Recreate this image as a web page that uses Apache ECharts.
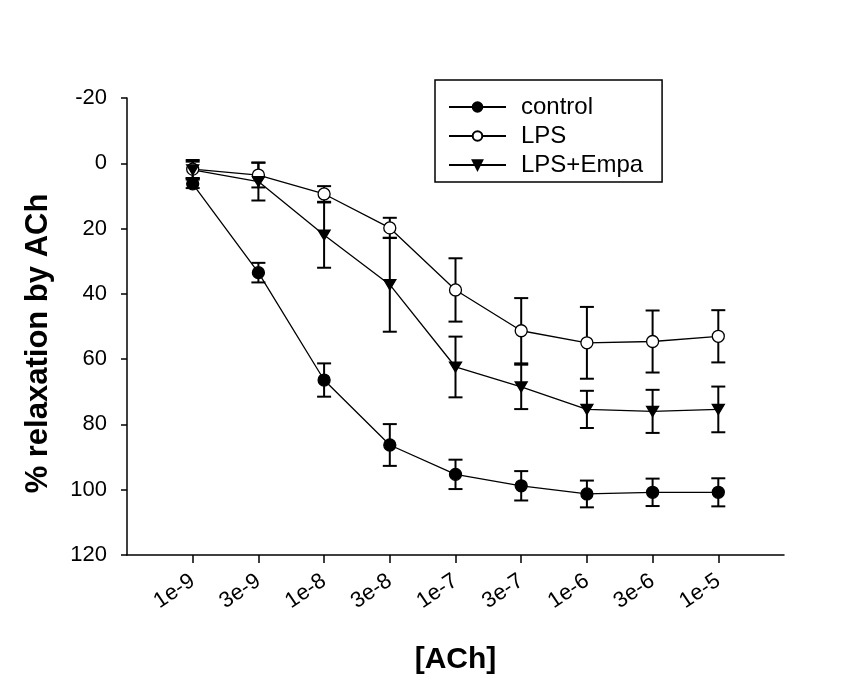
<!DOCTYPE html>
<html>
<head>
<meta charset="utf-8">
<script src="https://cdn.jsdelivr.net/npm/echarts@6/dist/echarts.min.js"></script>
<style>
  html, body { margin: 0; padding: 0; background: #fff; }
  #main { width: 848px; height: 686px; }
</style>
</head>
<body>
<div id="main"></div>
<script>
// ACh concentrations (x positions are just the index)
var categories = ['1e-9', '3e-9', '1e-8', '3e-8', '1e-7', '3e-7', '1e-6', '3e-6', '1e-5'];
var yTicks = [-20, 0, 20, 40, 60, 80, 100, 120];

// % relaxation, mean and sem
var control = [6.3, 33.5, 66.4, 86.3, 95.3, 98.8, 101.3, 100.8, 100.8];
var controlSem = [1.3, 3.0, 5.1, 6.4, 4.5, 4.5, 4.1, 4.2, 4.3];
var lps = [1.8, 3.6, 9.4, 19.8, 38.8, 51.3, 55.0, 54.6, 53.0];
var lpsSem = [2.8, 3.8, 2.4, 3.1, 9.7, 10.0, 11.0, 9.5, 8.0];
var empa = [2.0, 5.6, 22.0, 37.2, 62.4, 68.5, 75.4, 76.0, 75.4];
var empaSem = [2.5, 5.8, 10.0, 14.4, 9.3, 6.8, 5.7, 6.6, 7.0];

var FONT = 'Liberation Sans, Arial, sans-serif';

function points(vals) {
    return vals.map(function (v, i) { return [i, v]; });
}

function errData(vals, sem) {
    return vals.map(function (v, i) { return [i, v - sem[i], v + sem[i]]; });
}

// vertical error bar with caps
function renderErr(params, api) {
    var lo = api.coord([api.value(0), api.value(1)]);
    var hi = api.coord([api.value(0), api.value(2)]);
    var w = 7;
    var st = { stroke: '#000', lineWidth: 2 };
    return {
        type: 'group',
        children: [
            { type: 'line', shape: { x1: lo[0], y1: lo[1], x2: hi[0], y2: hi[1] }, style: st },
            { type: 'line', shape: { x1: lo[0] - w, y1: lo[1], x2: lo[0] + w, y2: lo[1] }, style: st },
            { type: 'line', shape: { x1: hi[0] - w, y1: hi[1], x2: hi[0] + w, y2: hi[1] }, style: st }
        ]
    };
}

function errSeries(vals, sem) {
    return {
        type: 'custom',
        renderItem: renderErr,
        data: errData(vals, sem),
        encode: { x: 0, y: [1, 2] },
        z: 1,
        silent: true
    };
}

function lineSeries(name, vals, symbol, fill, rot) {
    return {
        name: name,
        type: 'line',
        data: points(vals),
        symbol: symbol,
        symbolSize: symbol === 'triangle' ? [12, 10] : 12,
        symbolRotate: rot || 0,
        showAllSymbol: true,
        lineStyle: { color: '#000', width: 1.3 },
        itemStyle: { color: fill, borderColor: '#000', borderWidth: 1.3 },
        z: 3,
        animation: false
    };
}

var chart = echarts.init(document.getElementById('main'));

chart.setOption({
    animation: false,
    backgroundColor: '#fff',
    grid: { left: 127, right: 64, top: 98, bottom: 131 },
    legend: {
        data: ['control', 'LPS', 'LPS+Empa'],
        orient: 'vertical',
        left: 435,
        top: 80,
        padding: [15, 19, 5, 13],
        itemGap: 5,
        itemWidth: 57,
        itemHeight: 12,
        borderColor: '#000',
        borderWidth: 1.5,
        borderRadius: 0,
        textStyle: { fontFamily: FONT, fontSize: 24, color: '#000', padding: [0, 0, 0, 10] }
    },
    xAxis: {
        type: 'value',
        min: -1,
        max: 9,
        interval: 1,
        name: '[ACh]',
        nameLocation: 'middle',
        nameGap: 90,
        nameTextStyle: { fontFamily: FONT, fontSize: 30, fontWeight: 'bold', color: '#000' },
        splitLine: { show: false },
        axisLine: { onZero: false, lineStyle: { color: '#000', width: 1.5 } },
        axisTick: {
            customValues: categories.map(function (c, i) { return i; }),
            length: 8,
            lineStyle: { color: '#000', width: 1.5 }
        },
        axisLabel: {
            customValues: categories.map(function (c, i) { return i; }),
            formatter: function (v) { return categories[v] || ''; },
            rotate: 34,
            margin: 24,
            fontFamily: FONT,
            fontSize: 22,
            color: '#000'
        }
    },
    yAxis: {
        type: 'value',
        inverse: true,
        min: -20,
        max: 120,
        interval: 20,
        name: '% relaxation by ACh',
        nameLocation: 'middle',
        nameGap: 73,
        nameRotate: 90,
        nameTextStyle: { fontFamily: FONT, fontSize: 31, fontWeight: 'bold', color: '#000', padding: [0, 34, 0, 0] },
        splitLine: { show: false },
        axisLine: { show: true, onZero: false, lineStyle: { color: '#000', width: 1.5 } },
        axisTick: { show: true, length: 6, lineStyle: { color: '#000', width: 1.5 } },
        axisLabel: {
            customValues: yTicks,
            margin: 20,
            fontFamily: FONT,
            fontSize: 22,
            color: '#000'
        }
    },
    series: [
        errSeries(control, controlSem),
        errSeries(lps, lpsSem),
        errSeries(empa, empaSem),
        lineSeries('control', control, 'circle', '#000'),
        lineSeries('LPS', lps, 'circle', '#fff'),
        lineSeries('LPS+Empa', empa, 'triangle', '#000', 180)
    ]
});
</script>
</body>
</html>
